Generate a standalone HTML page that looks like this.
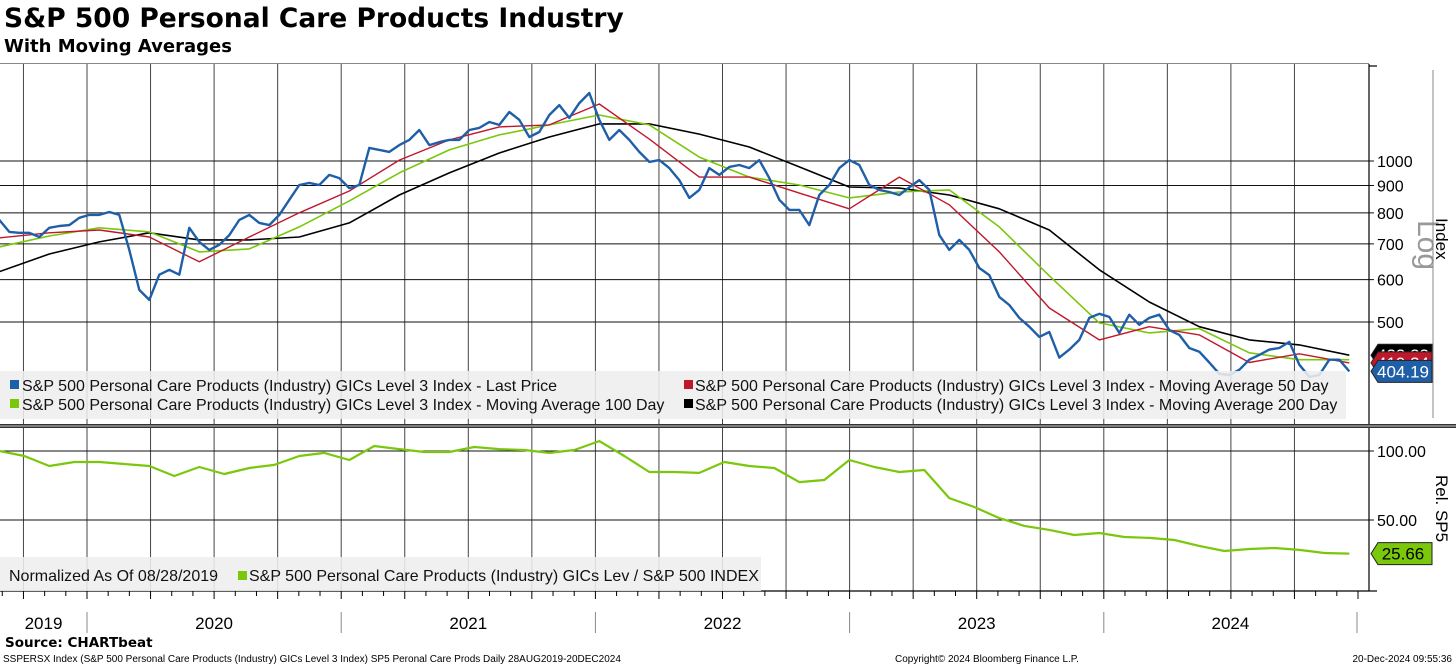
<!DOCTYPE html>
<html><head><meta charset="utf-8">
<style>
html,body{margin:0;padding:0;background:#fff;}
svg{display:block;font-family:"Liberation Sans","DejaVu Sans",sans-serif;}
</style></head>
<body>
<svg id="chart" width="1456" height="666" viewBox="0 0 1456 666" xmlns="http://www.w3.org/2000/svg">
<text x="4" y="27" font-family="DejaVu Sans, sans-serif" font-weight="bold" font-size="26.5" fill="#000">S&amp;P 500 Personal Care Products Industry</text>
<text x="4" y="52" font-family="DejaVu Sans, sans-serif" font-weight="bold" font-size="18" fill="#000">With Moving Averages</text>
<line x1="0" y1="63.5" x2="1369" y2="63.5" stroke="#888" stroke-width="1"/>
<g id="grid"></g>
<g id="series"></g>
<g id="axes"></g>
<g id="legend1">
  <rect x="0" y="371" width="1346" height="48" fill="#eeeeee" fill-opacity="0.88"/>
  <rect x="10" y="380" width="9" height="9" fill="#1f5fa8"/>
  <text x="22" y="391" font-size="16" fill="#111">S&amp;P 500 Personal Care Products (Industry) GICs Level 3 Index - Last Price</text>
  <rect x="10" y="399" width="9" height="9" fill="#7ac70c"/>
  <text x="22" y="410" font-size="16" fill="#111">S&amp;P 500 Personal Care Products (Industry) GICs Level 3 Index - Moving Average 100 Day</text>
  <rect x="684" y="380" width="9" height="9" fill="#c0182b"/>
  <text x="695" y="391" font-size="16" fill="#111">S&amp;P 500 Personal Care Products (Industry) GICs Level 3 Index - Moving Average 50 Day</text>
  <rect x="684" y="399" width="9" height="9" fill="#000"/>
  <text x="695" y="410" font-size="16" fill="#111">S&amp;P 500 Personal Care Products (Industry) GICs Level 3 Index - Moving Average 200 Day</text>
</g>
<g id="legend2">
  <rect x="0" y="557" width="761" height="34" fill="#eeeeee" fill-opacity="0.88"/>
  <text x="9" y="581" font-size="16" fill="#111">Normalized As Of 08/28/2019</text>
  <rect x="238" y="571" width="9" height="9" fill="#7ac70c"/>
  <text x="249" y="581" font-size="16" fill="#111">S&amp;P 500 Personal Care Products (Industry) GICs Lev / S&amp;P 500 INDEX</text>
</g>
<g id="labels"></g>
<text x="1418" y="220" transform="rotate(90 1418 220)" font-size="30" fill="#999">Log</text>
<line x1="1433" y1="70" x2="1433" y2="418" stroke="#888" stroke-width="1"/>
<text x="1436" y="218" transform="rotate(90 1436 218)" font-size="17" fill="#000">Index</text>
<text x="1436" y="475" transform="rotate(90 1436 475)" font-size="17" fill="#000">Rel. SP5</text>
<text x="5" y="647" font-family="DejaVu Sans, sans-serif" font-weight="bold" font-size="13.5" fill="#000">Source: CHARTbeat</text>
<text x="3" y="662" font-size="10" fill="#000">SSPERSX Index (S&amp;P 500 Personal Care Products (Industry) GICs Level 3 Index) SP5 Peronal Care Prods  Daily 28AUG2019-20DEC2024</text>
<text x="895" y="662" font-size="10" fill="#000">Copyright© 2024 Bloomberg Finance L.P.</text>
<text x="1452" y="662" text-anchor="end" font-size="10" fill="#000">20-Dec-2024 09:55:36</text>
</svg>
<script>
// ---- data ----
const startYear = 2019.655;
const priceStepYears = 10/254.2;
const maStepYears = 50/254.2;
const relStepYears = 25/254.2;
const priceValues = [776,737,734,734,721,750,756,759,783,793,793,803,793,682,574,550,613,626,613,750,706,682,697,727,776,793,766,759,793,846,902,910,902,942,929,890,902,1058,1049,1040,1071,1095,1143,1071,1085,1095,1095,1143,1153,1183,1168,1235,1194,1109,1133,1219,1272,1204,1283,1340,1194,1095,1143,1095,1040,996,1004,970,921,853,883,970,942,975,983,970,1004,929,846,810,810,759,864,902,970,1004,983,902,883,875,864,893,921,883,727,682,712,682,631,612,557,538,509,490,469,479,429,444,463,509,518,511,477,516,494,509,516,483,473,447,440,420,400,398,407,425,434,444,447,459,416,395,398,425,425,404.19];
const ma50Values = [718,734,743,721,648,721,800,879,1004,1095,1158,1168,1278,1099,933,933,871,814,933,828,676,531,463,490,473,420,436,419.34];
const ma100Values = [691,724,750,737,676,685,753,842,950,1049,1119,1168,1219,1168,1017,933,902,853,875,883,753,610,498,477,486,438,425,425];
const ma200Values = [621,670,706,734,712,712,721,766,864,950,1035,1109,1173,1173,1123,1062,975,894,890,864,814,743,626,545,490,463,453,433.33];
const relValues = [100,96.4,89.1,92.0,92.0,90.6,89.1,81.9,88.4,83.3,87.7,89.9,96.4,98.6,93.5,103.6,101.4,99.3,99.3,102.9,101.4,100.7,98.6,100.7,107.2,96.4,84.8,84.8,84.1,92.0,89.1,87.7,77.5,79.0,93.5,88.4,84.8,86.2,65.9,59.4,51.4,45.7,42.8,39.1,40.6,37.7,37.0,35.5,31.2,27.5,29.0,29.7,28.3,26.1,25.66];
const topTicks = [1000,900,800,700,600,500];
const relTicks = [100,50];
const relTickLabels = ["100.00","50.00"];
const years = [2019,2020,2021,2022,2023,2024];

// ---- scales ----
const X0 = 87, PX_PER_YEAR = 254.2;
function xOfYear(t){ return X0 + (t - 2020) * PX_PER_YEAR; }
function yTop(v){ return 161 + Math.log2(1000 / v) * 161; }
function yRel(v){ return 451 + (100 - v) * 1.38; }
const NS = "http://www.w3.org/2000/svg";
function mk(tag, attrs, parent){ const e=document.createElementNS(NS,tag); for(const k in attrs) e.setAttribute(k,attrs[k]); parent.appendChild(e); return e; }

const grid = document.getElementById('grid');
const axes = document.getElementById('axes');
const series = document.getElementById('series');
const labels = document.getElementById('labels');

for (let y = 2019.75; y < 2025; y += 0.25) {
  const x = xOfYear(y);
  if (x < 0 || x > 1360) continue;
  const l = mk('line', {x1:x, y1:64, x2:x, y2:591, stroke:'#444', 'stroke-width':1}, grid);
  
  
}
topTicks.forEach(v => {
  const y = yTop(v);
  const l = mk('line', {x1:0, y1:y, x2:1374, y2:y, stroke:'#111', 'stroke-width':1}, grid);
  
  
  const t = mk('text', {x:1377, y:y+6, 'font-size':16, fill:'#000'}, axes);
  t.textContent = v;
  
  
});
relTicks.forEach((v,i) => {
  const y = yRel(v);
  const l = mk('line', {x1:0, y1:y, x2:1374, y2:y, stroke:'#111', 'stroke-width':1}, grid);
  
  
  const t = mk('text', {x:1377, y:y+6, 'font-size':16, fill:'#000'}, axes);
  t.textContent = relTickLabels[i];
  
  
});
[[1369,64,1369,425],[1369,428,1369,591],[0,591,1369,591],[1369,66,1377,66],[1369,591,1377,591]].forEach(a=>{
  const l = mk('line', {x1:a[0], y1:a[1], x2:a[2], y2:a[3], stroke:'#000', 'stroke-width':1.2}, axes);
  
  
});
const sep = mk('rect', {x:0, y:424, width:1456, height:4, fill:'#333'}, axes);


mk('line', {x1:0, y1:426, x2:1456, y2:426, stroke:'#ccc', 'stroke-width':1}, axes);
for (let m = 0; m < 70; m++) {
  const x = xOfYear(2019 + 8/12 + m/12);
  if (x < 0 || x > 1360) continue;
  const l = mk('line', {x1:x, y1:591, x2:x, y2:(m%3==1?599:596), stroke:'#000', 'stroke-width':1}, axes);
  
  
}
years.forEach(yr => {
  const xs = Math.max(0, xOfYear(yr)), xe = Math.min(1357, xOfYear(yr+1));
  const t = mk('text', {x:(xs+xe)/2, y:629, 'text-anchor':'middle', 'font-size':17, fill:'#000'}, axes);
  t.textContent = yr;
  
  
  if (yr > 2019) {
    const l = mk('line', {x1:xOfYear(yr), y1:612, x2:xOfYear(yr), y2:633, stroke:'#888', 'stroke-width':1}, axes);
    
    
  }
});
mk('line', {x1:1357, y1:612, x2:1357, y2:633, stroke:'#888', 'stroke-width':1}, axes);

function pathFrom(vals, step, yf){
  return vals.map((v,i)=>(i?'L':'M')+xOfYear(startYear+i*step).toFixed(1)+' '+yf(v).toFixed(1)).join(' ');
}
const p200 = mk('path', {d:pathFrom(ma200Values, maStepYears, yTop), fill:'none', stroke:'#000', 'stroke-width':1.6, 'stroke-linejoin':'round'}, series);


const p100 = mk('path', {d:pathFrom(ma100Values, maStepYears, yTop), fill:'none', stroke:'#7ac70c', 'stroke-width':1.6, 'stroke-linejoin':'round'}, series);


const p50 = mk('path', {d:pathFrom(ma50Values, maStepYears, yTop), fill:'none', stroke:'#c0182b', 'stroke-width':1.4, 'stroke-linejoin':'round'}, series);


const pp = mk('path', {d:pathFrom(priceValues, priceStepYears, yTop), fill:'none', stroke:'#1f5fa8', 'stroke-width':2.4, 'stroke-linejoin':'round'}, series);


const pr = mk('path', {d:pathFrom(relValues, relStepYears, yRel), fill:'none', stroke:'#7ac70c', 'stroke-width':2.2, 'stroke-linejoin':'round'}, series);



function tag(y, val, bg, fg, name){
  const g = mk('g', {}, labels);
  
  
  mk('path', {d:`M1371 ${y} L1378 ${y-11} L1432 ${y-11} L1432 ${y+11} L1378 ${y+11} Z`, fill:bg, stroke:'#222', 'stroke-width':1}, g);
  const t = mk('text', {x:1403, y:y+6, 'text-anchor':'middle', 'font-size':17, fill:fg}, g);
  t.textContent = val;
}
const last = a => a[a.length-1];
tag(yTop(last(ma200Values)), last(ma200Values).toFixed(2), '#000', '#fff', 'ma200-value-label');
tag(yTop(last(ma50Values)), last(ma50Values).toFixed(2), '#c0182b', '#fff', 'ma50-value-label');
tag(yTop(last(priceValues)), last(priceValues).toFixed(2), '#1f5fa8', '#fff', 'price-value-label');
tag(yRel(last(relValues)), last(relValues).toFixed(2), '#7ac70c', '#000', 'relative-value-label');
</script>
</body></html>
